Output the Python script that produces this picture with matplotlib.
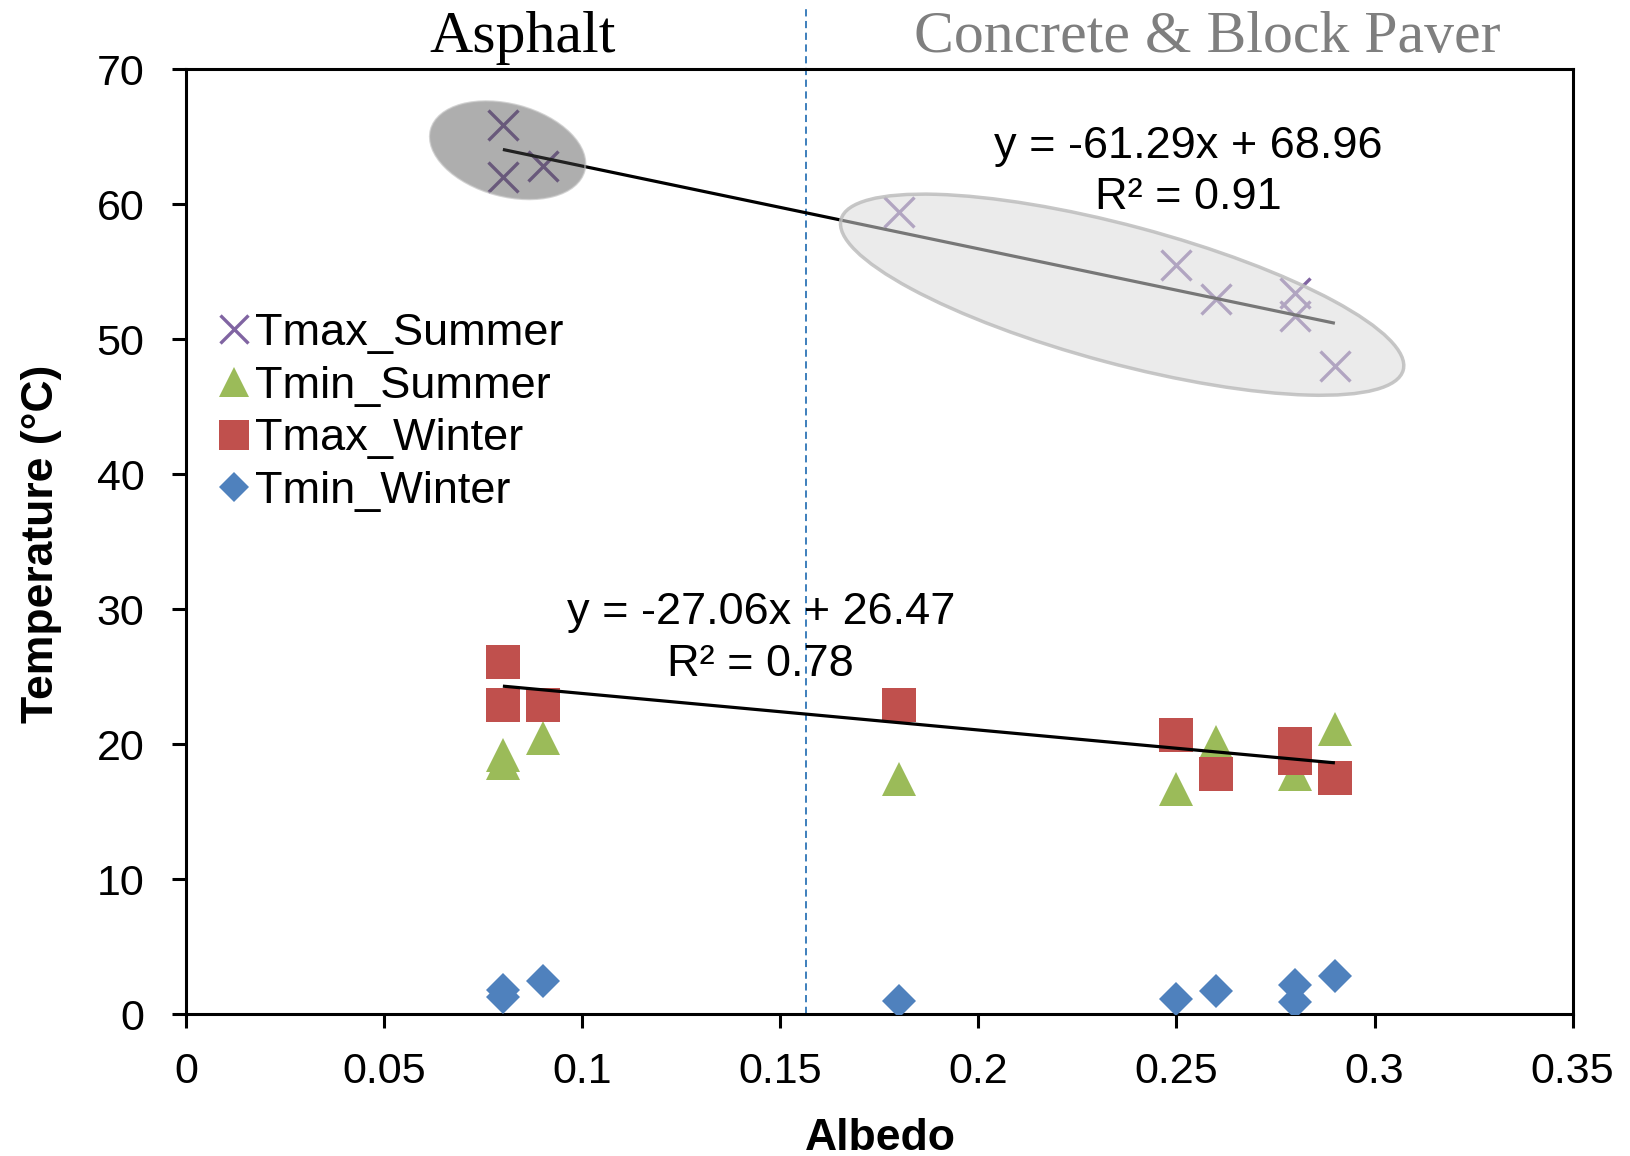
import matplotlib
matplotlib.use("Agg")
import matplotlib.pyplot as plt
import numpy as np
from matplotlib.patches import Ellipse
from matplotlib.transforms import ScaledTranslation

# ---- data -------------------------------------------------------------
albedo = [0.08, 0.08, 0.09, 0.18, 0.25, 0.26, 0.28, 0.28, 0.29]
tmax_summer = [65.9, 62.0, 62.8, 59.4, 55.5, 53.0, 53.4, 51.7, 48.0]
tmin_summer = [19.2, 18.6, 20.5, 17.4, 16.7, 20.2, 17.8, 19.4, 21.1]
tmax_winter = [26.1, 22.9, 22.9, 22.9, 20.7, 17.8, 20.0, 19.0, 17.5]
tmin_winter = [1.8, 1.3, 2.5, 1.0, 1.1, 1.7, 2.2, 0.9, 2.8]

# linear fits shown on the chart (slope, intercept, R^2)
fit_summer = (-61.29, 68.96, 0.91)
fit_winter = (-27.06, 26.47, 0.78)
fit_range = (0.08, 0.29)

x_ticks = [0, 0.05, 0.1, 0.15, 0.2, 0.25, 0.3, 0.35]
x_tick_labels = ["0", "0.05", "0.1", "0.15", "0.2", "0.25", "0.3", "0.35"]
y_ticks = [0, 10, 20, 30, 40, 50, 60, 70]

surface_split = 0.1566

# ---- style --------------------------------------------------------------
plt.rcParams["font.family"] = ["Liberation Sans", "DejaVu Sans"]
SERIF = ["Liberation Serif", "DejaVu Serif"]
PURPLE = "#8064a2"
GREEN = "#9bbb59"
RED = "#c0504d"
BLUE = "#4f81bd"

fig = plt.figure(figsize=(16.31, 11.56), dpi=100)
ax = fig.add_axes([0.1140, 0.1226, 0.8502, 0.8175])

ax.plot(albedo, tmax_summer, ls="none", marker="x", ms=22, mew=2.4,
        color=PURPLE, label="Tmax_Summer", zorder=3)
ax.plot(albedo, tmin_summer, ls="none", marker="^", ms=24, mew=0,
        color=GREEN, label="Tmin_Summer", zorder=3)
ax.plot(albedo, tmax_winter, ls="none", marker="s", ms=24, mew=0,
        color=RED, label="Tmax_Winter", zorder=3)
ax.plot(albedo, tmin_winter, ls="none", marker="D", ms=17.5, mew=0,
        color=BLUE, label="Tmin_Winter", zorder=3)

# trend lines from the stated equations
xf = np.array(fit_range)
for slope, icpt, _ in (fit_summer, fit_winter):
    ax.plot(xf, slope * xf + icpt, color="black", lw=2.3, zorder=4,
            solid_capstyle="butt")

# grouping ellipses (sizes in pixels, centred in data coordinates)
def group_ellipse(cx, cy, w_px, h_px, angle, **kw):
    tr = fig.dpi_scale_trans + ScaledTranslation(cx, cy, ax.transData)
    e = Ellipse((0, 0), w_px / fig.dpi, h_px / fig.dpi, angle=angle,
                transform=tr, zorder=5, **kw)
    ax.add_patch(e)

group_ellipse(0.0812, 64.0, 159, 92, -15,
              facecolor=(0.3, 0.3, 0.3, 0.45),
              edgecolor=(0.72, 0.72, 0.72, 0.6), lw=1.5)
group_ellipse(0.2363, 53.3, 582, 138, -15,
              facecolor=(0.86, 0.86, 0.86, 0.55),
              edgecolor=(0.74, 0.74, 0.74, 0.85), lw=2.5)

# boundary between surface groups
ax.axvline(surface_split, ymin=0, ymax=1.065, color="#2e75b6", lw=1.3,
           dashes=(4, 2.5), clip_on=False, zorder=2)

# equation labels
eq_kw = dict(ha="center", va="baseline", fontsize=32.5, zorder=6)
ax.text(0.2531, 63.44, f"y = {fit_summer[0]:.2f}x + {fit_summer[1]:.2f}", **eq_kw)
ax.text(0.2531, 59.65, f"R\u00b2 = {fit_summer[2]:.2f}", **eq_kw)
ax.text(0.1451, 28.88, f"y = {fit_winter[0]:.2f}x + {fit_winter[1]:.2f}", **eq_kw)
ax.text(0.1451, 25.03, f"R\u00b2 = {fit_winter[2]:.2f}", **eq_kw)

# surface-group headings
fig.text(0.3207, 1 - 52 / 1156, "Asphalt", ha="center", va="baseline",
         fontsize=43, family=SERIF, color="black")
fig.text(0.7405, 1 - 52 / 1156, "Concrete & Block Paver", ha="center",
         va="baseline", fontsize=43, family=SERIF, color="#7f7f7f")

# axes
ax.set_xlim(0, 0.35)
ax.set_ylim(0, 70)
ax.set_xticks(x_ticks)
ax.set_xticklabels(x_tick_labels)
ax.set_yticks(y_ticks)
for sp in ax.spines.values():
    sp.set_linewidth(2.2)
    sp.set_color("black")
ax.tick_params(axis="both", direction="out", length=10, width=2.2,
               labelsize=31, colors="black")
ax.tick_params(axis="x", pad=17)
ax.tick_params(axis="y", pad=20)

ax.set_xlabel("Albedo", fontsize=32, fontweight="bold")
ax.xaxis.set_label_coords(0.501, -0.1095)
ax.set_ylabel("Temperature (\u00b0C)", fontsize=32, fontweight="bold")
ax.yaxis.set_label_coords(-0.0894, 0.4977)

ax.legend(loc="upper left", bbox_to_anchor=(218 / 1631, 1 - 313 / 1156),
          bbox_transform=fig.transFigure, frameon=False, fontsize=32.5,
          handlelength=0.7, handletextpad=0.12, labelspacing=0.26,
          borderpad=0, borderaxespad=0, markerscale=0.9)

fig.savefig("out.png", dpi=100)
